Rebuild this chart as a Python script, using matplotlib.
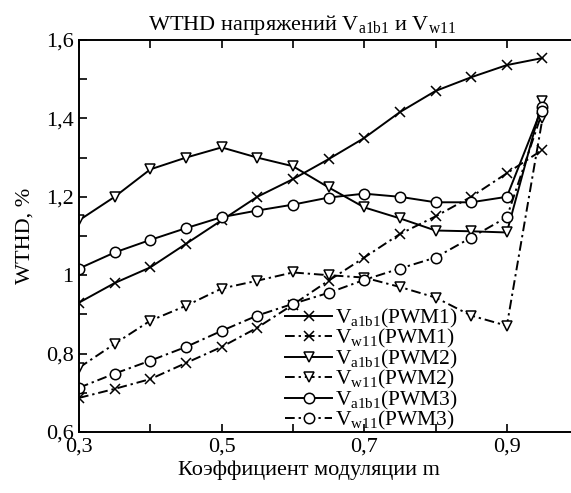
import matplotlib

matplotlib.use("Agg")

import matplotlib.pyplot as plt
from matplotlib.ticker import FixedLocator, FuncFormatter, MultipleLocator

plt.rcParams["font.family"] = ["Liberation Serif", "DejaVu Serif"]
plt.rcParams["mathtext.fontset"] = "custom"
plt.rcParams["mathtext.rm"] = "Liberation Serif"
plt.rcParams["mathtext.it"] = "Liberation Serif:italic"

m = [0.3, 0.35, 0.4, 0.45, 0.5, 0.55, 0.6, 0.65, 0.7, 0.75, 0.8, 0.85, 0.9, 0.95]

va1b1_pwm1 = [0.93, 0.98, 1.02, 1.08, 1.14, 1.20, 1.245, 1.296, 1.35, 1.416, 1.47, 1.505, 1.536, 1.554]
vw11_pwm1 = [0.687, 0.71, 0.735, 0.776, 0.817, 0.866, 0.925, 0.986, 1.045, 1.105, 1.15, 1.20, 1.26, 1.32]
va1b1_pwm2 = [1.14, 1.20, 1.27, 1.30, 1.326, 1.30, 1.278, 1.224, 1.173, 1.145, 1.114, 1.112, 1.109, 1.445]
vw11_pwm2 = [0.764, 0.825, 0.884, 0.922, 0.966, 0.986, 1.007, 1.0, 0.994, 0.97, 0.943, 0.897, 0.871, 1.40]
va1b1_pwm3 = [1.017, 1.058, 1.09, 1.12, 1.148, 1.165, 1.18, 1.198, 1.208, 1.20, 1.186, 1.186, 1.20, 1.43]
vw11_pwm3 = [0.713, 0.749, 0.782, 0.817, 0.858, 0.897, 0.927, 0.955, 0.988, 1.017, 1.045, 1.096, 1.148, 1.418]

A = r"$\mathregular{V_{a1b1}}$"
W = r"$\mathregular{V_{w11}}$"
series = [
    (va1b1_pwm1, A + "(PWM1)", "x", "-"),
    (vw11_pwm1, W + "(PWM1)", "x", "-."),
    (va1b1_pwm2, A + "(PWM2)", "v", "-"),
    (vw11_pwm2, W + "(PWM2)", "v", "-."),
    (va1b1_pwm3, A + "(PWM3)", "o", "-"),
    (vw11_pwm3, W + "(PWM3)", "o", "-."),
]

fig = plt.figure(figsize=(5.71, 4.93), dpi=100)
ax = fig.add_axes([79 / 571, 1 - 432 / 493, 1 - 79 / 571, (432 - 40) / 493])

for values, label, marker, style in series:
    ls = (0, (5, 2, 1.2, 2)) if style == "-." else "-"
    ax.plot(m, values, color="black", linestyle=ls, linewidth=1.4,
            marker=marker, markersize=7.5, markerfacecolor="white",
            markeredgecolor="black", markeredgewidth=1.1, label=label)

ax.set_xlim(0.3, 0.99)
ax.set_ylim(0.6, 1.6)
ax.xaxis.set_major_locator(FixedLocator([0.3, 0.5, 0.7, 0.9]))
ax.xaxis.set_minor_locator(FixedLocator([0.4, 0.6, 0.8]))
ax.yaxis.set_major_locator(MultipleLocator(0.2))
ax.yaxis.set_minor_locator(MultipleLocator(0.1))


def comma(v, pos):
    s = f"{v:.1f}".replace(".", ",")
    return "1" if s == "1,0" else s


ax.xaxis.set_major_formatter(FuncFormatter(comma))
ax.yaxis.set_major_formatter(FuncFormatter(comma))
ax.tick_params(which="both", direction="in", top=True, right=False, labelsize=16,
               width=1.2, pad=4)
ax.tick_params(which="major", length=6)
ax.tick_params(which="minor", length=6)
ax.spines["right"].set_visible(False)
for s in ["left", "bottom", "top"]:
    ax.spines[s].set_linewidth(1.4)

ax.set_title("WTHD напряжений " + A + " и " + W, fontsize=16,
             x=(302 - 79) / 492, pad=7)
ax.set_xlabel("Коэффициент модуляции m", fontsize=16)
ax.xaxis.set_label_coords((309 - 79) / 492, -0.072)
ax.set_ylabel("WTHD, %", fontsize=16)
ax.yaxis.set_label_coords(-0.09, 0.5)

ax.legend(loc="lower left", bbox_to_anchor=((285 - 79) / 492, 0.0), frameon=False,
          fontsize=15.5, labelspacing=-0.12, handlelength=2.2, handletextpad=0.1,
          borderpad=0, borderaxespad=0)

fig.savefig("out.png", dpi=100)
